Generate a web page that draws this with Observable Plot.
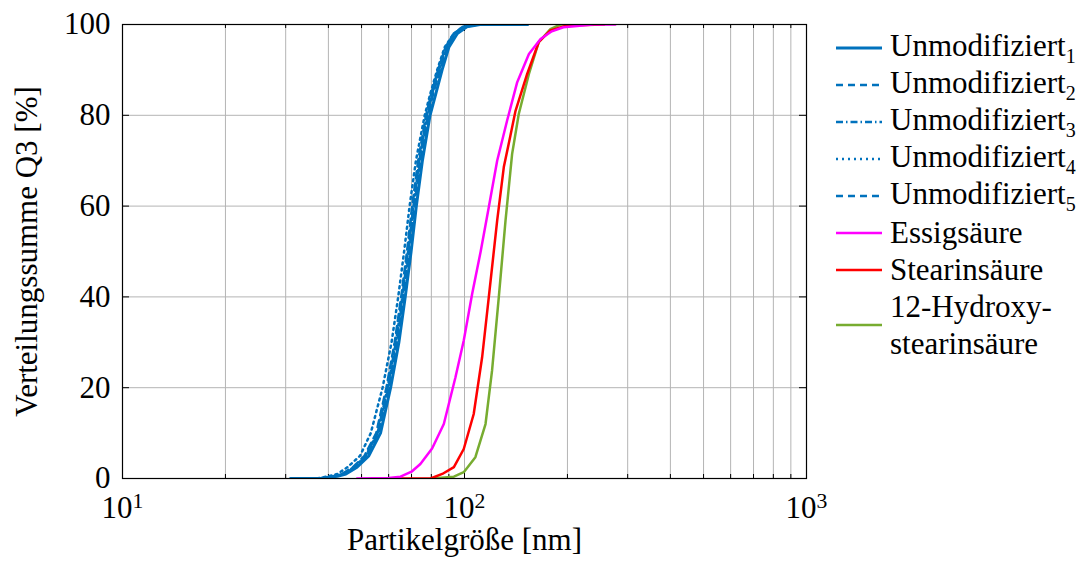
<!DOCTYPE html>
<html><head><meta charset="utf-8">
<script src="https://cdn.jsdelivr.net/npm/d3@7"></script>
<script src="https://cdn.jsdelivr.net/npm/@observablehq/plot@0.6"></script>
</head>
<body style="margin:0;background:#fff;font-family:'Liberation Serif'">
<div id="wrap" style="position:relative;width:1085px;height:566px;font-family:'Liberation Serif'"></div>
<script>
// ---- data ----
const qUnmod = [0, 0, 0.5, 1, 2.5, 5, 10, 20, 30, 40, 50, 60, 70, 80, 85, 90, 95, 98, 99.5, 100, 100];
const sizeU1 = [31, 38, 42.5, 45, 48.5, 52.5, 56.8, 60.8, 64.3, 67.1, 69.8, 72.3, 75.3, 79.3, 82.6, 86, 90, 95.3, 101.6, 111, 153];
const sizeU2 = [32, 37.5, 41.3, 43.8, 47.2, 51, 55.2, 59.1, 62.5, 65.3, 67.9, 70.3, 73.2, 77.2, 80.1, 83.7, 88, 93, 99, 110, 152];
const sizeU3 = [32, 37.5, 41.6, 44.1, 47.5, 51.4, 55.7, 59.6, 63, 65.8, 68.4, 70.9, 73.8, 77.7, 80.6, 84.3, 88.5, 93.5, 99.5, 110, 152];
const sizeU4 = [33, 37, 40, 42.5, 45.5, 49.5, 53.2, 57.6, 61.2, 64, 66.6, 69.1, 72.1, 76.5, 79.6, 83.2, 87.5, 93, 99, 109, 150];
const sizeU5 = [31.5, 37.8, 41.9, 44.4, 47.9, 51.8, 56, 60, 63.5, 66.2, 68.9, 71.4, 74.3, 78.3, 81.1, 84.9, 89, 94, 100, 110, 152];
const sizeEssig = [48.5, 60, 65, 70, 74.3, 80.4, 87, 94.1, 99.5, 105.3, 111.5, 117.8, 124.6, 133.3, 142.6, 154.3, 166.9, 180, 194.6, 238, 276];
const qEssig = [0, 0.1, 0.4, 1.5, 3.2, 6.6, 12, 22.3, 30.4, 40.7, 50, 59.8, 70, 78.9, 87.3, 93.5, 96.8, 98.5, 99.4, 100, 100];
const sizeStearin = [65, 79.6, 86.1, 93.1, 99.5, 106.4, 112.6, 117.8, 124.6, 130.3, 136.2, 141, 152.5, 164.8, 178.3, 199.5, 256];
const qStearin = [0, 0, 1, 2.5, 6.5, 14.2, 26.7, 40, 56.8, 68.6, 75.5, 81, 89.1, 96.1, 98.7, 99.8, 100];
const sizeHydroxy = [80.4, 93.1, 99.5, 107.6, 115.2, 120.4, 126, 131.8, 137.8, 144.1, 154.3, 164.8, 178.3, 190.6, 238];
const qHydroxy = [0, 0.4, 1.4, 4.7, 12, 23.8, 40, 56.8, 71.5, 80.3, 89.1, 96.1, 99, 100, 100];

const xMajor = [10, 100, 1000];
const xMinor = [20, 30, 40, 50, 60, 70, 80, 90, 200, 300, 400, 500, 600, 700, 800, 900];
const yTicks = [0, 20, 40, 60, 80, 100];
const xLabel = "Partikelgröße [nm]";
const yLabel = "Verteilungssumme Q3 [%]";

const BLUE = "#0072BD";
const series = [
  {name: "Unmodifiziert", sub: "1", x: sizeU1, y: qUnmod, color: BLUE, dash: null, w: 3},
  {name: "Unmodifiziert", sub: "2", x: sizeU2, y: qUnmod, color: BLUE, dash: "7,5", w: 2.5},
  {name: "Unmodifiziert", sub: "3", x: sizeU3, y: qUnmod, color: BLUE, dash: "7,3,1.5,3", w: 2.5},
  {name: "Unmodifiziert", sub: "4", x: sizeU4, y: qUnmod, color: BLUE, dash: "2,4", w: 2.5},
  {name: "Unmodifiziert", sub: "5", x: sizeU5, y: qUnmod, color: BLUE, dash: "7,5", w: 2.5},
  {name: "Essigsäure", sub: "", x: sizeEssig, y: qEssig, color: "#FF00FF", dash: null, w: 2.5},
  {name: "Stearinsäure", sub: "", x: sizeStearin, y: qStearin, color: "#FF0000", dash: null, w: 2.5},
  {name: "12-Hydroxy-stearinsäure", sub: "", x: sizeHydroxy, y: qHydroxy, color: "#77AC30", dash: null, w: 2.5}
];

const FONT = "Liberation Serif";
const marks = [
  Plot.gridX([...xMajor, ...xMinor], {stroke: "#b4b4b4", strokeOpacity: 1, strokeWidth: 1}),
  Plot.gridY(yTicks, {stroke: "#b4b4b4", strokeOpacity: 1, strokeWidth: 1}),
  Plot.tickX(xMajor, {x: d => d, insetTop: 447, stroke: "#000"}),
  Plot.tickX(xMajor, {x: d => d, insetBottom: 447, stroke: "#000"}),
  Plot.tickX(xMinor, {x: d => d, insetTop: 450, stroke: "#000"}),
  Plot.tickX(xMinor, {x: d => d, insetBottom: 450, stroke: "#000"}),
  Plot.tickY(yTicks, {y: d => d, insetRight: 677, stroke: "#000"}),
  Plot.tickY(yTicks, {y: d => d, insetLeft: 677, stroke: "#000"})
];
[...series].reverse().forEach(s => {
  const rows = s.x.map((v, i) => ({x: v, y: s.y[i]}));
  marks.push(Plot.line(rows, {x: "x", y: "y", stroke: s.color, strokeWidth: s.w,
    strokeDasharray: s.dash || undefined, curve: "linear", clip: true}));
});
marks.push(Plot.frame({stroke: "#000", strokeWidth: 1.2}));
marks.push(Plot.axisX(xMajor, {tickSize: 0, tickPadding: 17, fontSize: 31, label: null, tickFormat: d => "10|" + Math.round(Math.log10(d))}));
marks.push(Plot.axisY(yTicks, {tickSize: 0, tickPadding: 12, fontSize: 31, label: null}));
marks.push(Plot.text([xLabel], {frameAnchor: "bottom", textAnchor: "middle", dy: 71, fontSize: 31, text: d => d}));
marks.push(Plot.text([yLabel], {frameAnchor: "left", textAnchor: "middle", dx: -95, rotate: -90, fontSize: 31, text: d => d}));

const chart = Plot.plot({
  width: 1085, height: 566,
  marginLeft: 122, marginRight: 279, marginTop: 24, marginBottom: 88,
  style: {color: "#000", background: "#fff", overflow: "visible"},
  x: {type: "log", domain: [10, 1000]},
  y: {domain: [0, 100]},
  marks
});
chart.setAttribute("font-family", FONT);
chart.style.fontFamily = FONT;
d3.select(chart).selectAll("text, g").attr("font-family", FONT).style("font-family", FONT);
// superscripts for log tick labels
d3.select(chart).selectAll("text").each(function() {
  const t = this.textContent;
  if (/^10\|\d$/.test(t)) {
    const e = t.split("|")[1];
    const sel = d3.select(this);
    sel.text("10");
    sel.append("tspan").attr("dy", "-0.42em").attr("font-size", "0.7em").text(e);
  }
});
document.getElementById("wrap").appendChild(chart);

// legend
const lg = document.createElement("div");
Object.assign(lg.style, {position: "absolute", left: "836px", top: "29px", fontSize: "31px", color: "#000", fontFamily: FONT});
series.forEach(s => {
  const row = document.createElement("div");
  const two = s.name.includes("-stearin");
  Object.assign(row.style, {display: "flex", alignItems: "center", height: two ? "74px" : "37px", fontFamily: FONT});
  const dash = s.dash ? ` stroke-dasharray="${s.dash}"` : "";
  const sub = s.sub ? `<span style="font-size:20px;position:relative;top:7px">${s.sub}</span>` : "";
  row.innerHTML = `<svg width="46" height="10" style="flex:none;margin-right:8px"><line x1="0" x2="46" y1="5" y2="5" stroke="${s.color}" stroke-width="${s.w}"${dash}/></svg>` +
    (two ? `<span style="line-height:37px;font-family:'Liberation Serif'">12-Hydroxy-<br>stearinsäure</span>`
         : `<span style="line-height:37px;font-family:'Liberation Serif'">${s.name}${sub}</span>`);
  lg.appendChild(row);
});
document.getElementById("wrap").appendChild(lg);
</script></body></html>
